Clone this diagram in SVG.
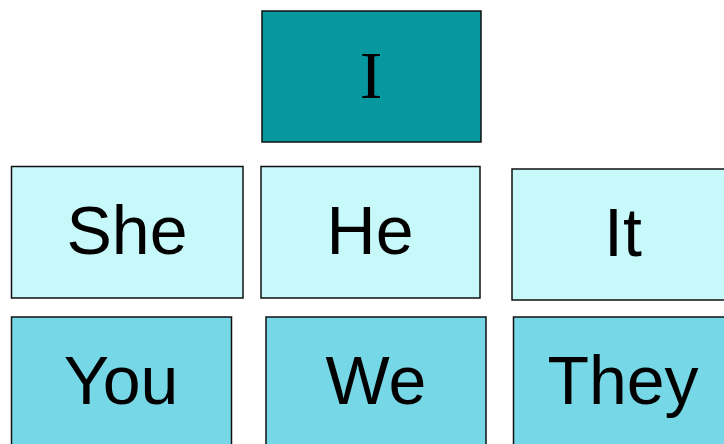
<svg xmlns="http://www.w3.org/2000/svg" width="724" height="444" viewBox="0 0 724 444">
<style>
rect{stroke:#111;stroke-width:1.5}
.dark{fill:#07989F}
.light{fill:#C8F9FA}
.mid{fill:#76D8E6}
text{font-family:"Liberation Sans",Arial,sans-serif;font-size:68px;fill:#000;text-anchor:middle}
.serif{font-family:"Liberation Serif","Times New Roman",serif;font-size:68px}
</style>
<rect width="724" height="444" fill="#fff" style="stroke:none"/>
<g id="node-I"><rect class="dark" x="262" y="11" width="219" height="131"/><text class="serif" x="371" y="98">I</text></g>
<g id="node-She"><rect class="light" x="11.5" y="166.5" width="231.5" height="131.5"/><text x="127" y="254">She</text></g>
<g id="node-He"><rect class="light" x="261" y="166.5" width="219" height="131.5"/><text x="370" y="254">He</text></g>
<g id="node-It"><rect class="light" x="512" y="169" width="222" height="131"/><text x="623" y="256">It</text></g>
<g id="node-You"><rect class="mid" x="11.5" y="317" width="220" height="140"/><text x="121" y="404">You</text></g>
<g id="node-We"><rect class="mid" x="266" y="317" width="220" height="140"/><text x="376" y="404">We</text></g>
<g id="node-They"><rect class="mid" x="513.5" y="317" width="220" height="140"/><text x="623" y="404">They</text></g>
<g id="connectors"/>
</svg>
